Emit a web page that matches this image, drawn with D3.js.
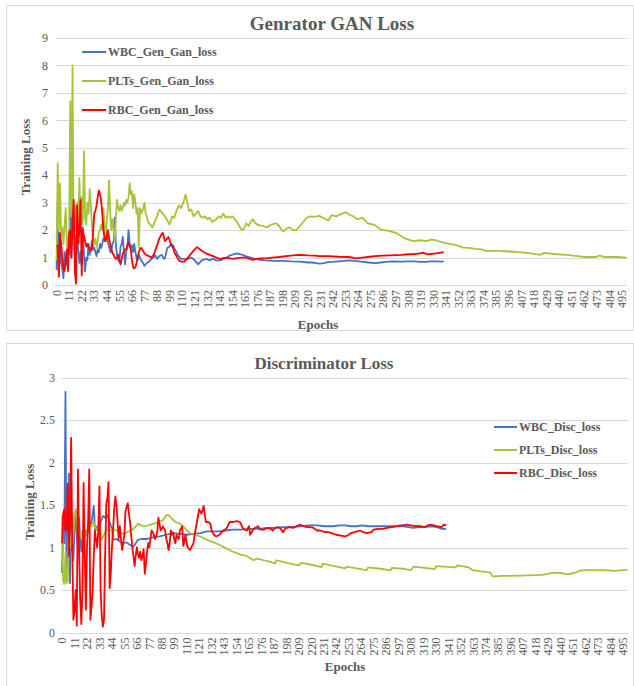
<!DOCTYPE html>
<html><head>
<meta charset="UTF-8">
<title>GAN Loss</title>
<script src="https://d3js.org/d3.v7.min.js"></script>
<style>
    body { margin: 0; background: #fff; }
    svg text { font-family: "Liberation Serif", "Times New Roman", serif; fill: #595959; }
    .grid line { stroke: #d9d9d9; stroke-width: 1px; }
    .frame { fill: none; stroke: #d9d9d9; stroke-width: 1px; }
    .series { fill: none; stroke-width: 1.8px; stroke-linejoin: round; }
</style>
</head>
<body>
<svg id="chart" width="634" height="686"></svg>
<script>
// epoch tick labels (category axis, every 11th)
const epochTicks = [0,11,22,33,44,55,66,77,88,99,110,121,132,143,154,165,176,187,198,209,220,231,242,253,264,275,286,297,308,319,330,341,352,363,374,385,396,407,418,429,440,451,462,473,484,495];
const genYTicks = [0,1,2,3,4,5,6,7,8,9];
const discYTicks = [0,0.5,1,1.5,2,2.5,3];

const genNames = ["WBC_Gen_Gan_loss", "PLTs_Gen_Gan_loss", "RBC_Gen_Gan_loss"];
const discNames = ["WBC_Disc_loss", "PLTs_Disc_loss", "RBC_Disc_loss"];
const colors = ["#4472c4", "#a5c43a", "#ff0000"];

// [epoch, loss]
const genWbc = [[0,0.55],[1,3.0],[2,0.5],[3,1.5],[4,0.8],[5,0.6],[6,0.25],[7,1.2],[8,0.7],[9,0.9],[10,1.5],[11,1.1],[12,2.8],[13,1.0],[14,3.5],[15,1.4],[16,1.8],[17,1.0],[18,1.6],[19,1.3],[20,0.8],[21,1.2],[22,0.7],[23,2.1],[24,1.1],[25,0.5],[26,1.0],[27,0.9],[28,1.5],[29,1.1],[30,1.3],[31,1.6],[32,1.3],[33,1.35],[34,1.2],[35,1.05],[36,1.3],[37,1.2],[38,1.5],[39,1.35],[40,1.5],[41,1.7],[42,1.6],[43,1.75],[44,1.9],[45,1.55],[46,1.4],[47,1.2],[48,1.25],[49,1.5],[50,1.6],[51,2.45],[52,1.4],[53,1.1],[54,0.9],[55,0.85],[56,1.4],[57,1.5],[58,1.75],[59,1.2],[60,0.75],[61,1.2],[62,1.4],[63,2.0],[64,1.5],[65,1.35],[66,1.45],[67,1.2],[68,1.5],[69,1.2],[70,1.0],[71,0.9],[72,1.1],[73,1.0],[74,0.9],[75,0.85],[77,0.7],[79,0.8],[81,0.85],[83,0.95],[85,1.0],[86,1.1],[88,0.95],[90,1.05],[92,1.1],[94,0.95],[95,1.0],[97,1.35],[99,1.4],[100,1.5],[102,1.45],[103,1.35],[105,1.2],[106,1.1],[108,1.0],[109,0.95],[112,0.95],[115,0.95],[118,1.0],[121,0.9],[124,0.75],[127,0.9],[131,0.95],[134,0.9],[137,0.95],[140,0.9],[143,0.9],[146,0.95],[149,1.0],[152,1.08],[155,1.12],[158,1.15],[161,1.12],[164,1.08],[167,1.03],[170,1.0],[174,0.95],[178,0.92],[183,0.9],[190,0.88],[198,0.88],[205,0.86],[213,0.85],[220,0.82],[224,0.82],[227,0.8],[230,0.78],[234,0.8],[238,0.83],[242,0.84],[247,0.86],[252,0.88],[256,0.9],[260,0.88],[265,0.86],[273,0.82],[279,0.8],[284,0.82],[288,0.84],[294,0.86],[302,0.85],[308,0.86],[314,0.86],[318,0.84],[323,0.84],[328,0.86],[332,0.86],[337,0.85],[339,0.86]];
const genPlts = [[0,0.9],[1,4.44],[2,2.0],[3,3.7],[4,1.8],[5,2.1],[6,1.5],[7,2.2],[8,2.8],[9,1.4],[10,1.6],[11,2.0],[12,6.7],[13,2.5],[14,8.0],[15,1.3],[16,2.9],[17,2.0],[18,3.0],[19,2.1],[20,3.9],[21,2.3],[22,3.2],[23,2.2],[24,4.87],[25,2.4],[26,2.2],[27,3.0],[28,2.6],[29,3.5],[30,2.9],[31,2.2],[32,1.6],[33,1.5],[34,1.7],[35,1.35],[36,1.6],[37,1.9],[38,2.0],[39,2.2],[40,2.0],[41,2.8],[42,2.2],[43,1.6],[44,2.4],[45,2.8],[46,3.8],[47,2.6],[48,2.0],[49,2.4],[50,2.0],[51,1.6],[52,2.5],[53,3.1],[54,2.8],[55,2.7],[56,2.9],[57,2.7],[58,2.8],[59,3.0],[60,2.9],[61,3.1],[62,3.0],[63,3.2],[64,3.7],[65,3.3],[66,3.4],[67,2.8],[68,3.3],[69,3.0],[70,2.6],[71,2.8],[72,1.35],[73,2.8],[74,2.6],[75,2.7],[76,2.8],[77,3.0],[78,2.6],[79,2.5],[80,2.3],[82,2.2],[84,2.1],[86,2.3],[88,2.5],[90,2.75],[91,2.7],[93,2.6],[95,2.5],[97,2.35],[99,2.2],[101,2.5],[103,2.45],[105,2.7],[107,2.9],[109,2.8],[111,3.0],[113,3.3],[114,3.1],[116,2.7],[118,2.75],[120,2.5],[122,2.6],[124,2.7],[126,2.5],[128,2.45],[130,2.5],[132,2.4],[134,2.45],[136,2.3],[138,2.35],[140,2.4],[142,2.5],[144,2.45],[146,2.6],[148,2.45],[150,2.5],[152,2.45],[154,2.5],[156,2.4],[158,2.3],[160,2.15],[162,2.0],[164,2.05],[166,2.25],[168,2.15],[170,2.3],[172,2.4],[174,2.25],[176,2.2],[180,2.15],[184,2.1],[188,2.2],[192,2.25],[195,2.15],[197,2.0],[199,1.95],[201,2.05],[204,2.1],[207,2.0],[210,2.0],[213,2.15],[216,2.3],[219,2.45],[222,2.5],[226,2.48],[230,2.52],[234,2.43],[238,2.35],[241,2.55],[245,2.5],[250,2.6],[253,2.65],[257,2.55],[260,2.5],[263,2.4],[268,2.45],[272,2.25],[278,2.2],[284,2.02],[291,1.97],[297,1.9],[304,1.72],[312,1.6],[318,1.63],[324,1.6],[328,1.65],[332,1.63],[337,1.56],[344,1.5],[350,1.45],[356,1.36],[361,1.35],[367,1.32],[372,1.3],[376,1.24],[385,1.24],[397,1.22],[406,1.2],[415,1.15],[424,1.1],[427,1.17],[435,1.13],[447,1.1],[456,1.05],[462,1.02],[472,1.02],[475,1.07],[479,1.03],[491,1.02],[499,1.0]];
const genRbc = [[0,1.45],[1,1.4],[2,0.3],[3,1.9],[4,1.5],[5,1.0],[6,0.6],[7,0.5],[8,0.9],[9,1.3],[10,0.5],[11,1.9],[12,2.0],[13,1.0],[14,2.2],[15,3.1],[16,0.5],[17,0.05],[18,2.9],[19,1.5],[20,2.0],[21,3.1],[22,0.35],[23,2.0],[24,1.8],[25,1.6],[26,1.4],[27,1.5],[28,1.35],[29,1.35],[30,1.25],[31,1.3],[32,1.9],[33,2.6],[34,2.7],[35,2.9],[36,3.2],[37,3.45],[38,3.3],[39,3.1],[40,2.6],[41,2.0],[42,1.7],[43,1.6],[44,1.8],[45,2.0],[46,1.7],[47,1.5],[48,1.3],[49,1.15],[50,1.1],[51,1.0],[52,0.95],[53,1.0],[54,1.1],[55,0.9],[56,0.75],[57,0.95],[58,1.15],[59,1.2],[60,1.3],[61,1.3],[62,1.45],[63,1.55],[64,1.4],[65,1.3],[66,0.9],[67,0.65],[68,0.6],[69,0.65],[70,0.8],[71,1.0],[72,1.2],[73,1.3],[74,1.35],[75,1.3],[77,1.15],[79,1.08],[81,1.05],[83,1.0],[85,1.1],[86,1.2],[88,1.45],[90,1.7],[92,1.85],[93,1.9],[94,1.75],[95,1.6],[97,1.7],[98,1.75],[100,1.5],[102,1.35],[103,1.2],[105,1.05],[107,0.9],[109,0.85],[112,0.85],[115,1.0],[118,1.15],[121,1.3],[123,1.38],[125,1.32],[127,1.25],[131,1.15],[134,1.1],[137,1.05],[140,1.0],[143,0.95],[146,0.98],[149,1.0],[152,0.97],[155,0.95],[158,0.98],[162,1.0],[166,1.0],[169,0.95],[172,0.92],[175,0.95],[178,0.97],[184,0.98],[189,1.0],[195,1.02],[201,1.05],[207,1.08],[213,1.1],[220,1.08],[226,1.07],[230,1.05],[238,1.05],[247,1.03],[256,1.02],[262,0.97],[268,1.0],[274,1.03],[279,1.05],[285,1.07],[291,1.08],[297,1.09],[302,1.1],[308,1.12],[314,1.13],[318,1.15],[321,1.18],[324,1.12],[328,1.13],[332,1.15],[335,1.17],[339,1.2]];

const discWbc = [[0,0.7],[1,1.3],[2,1.05],[3,2.83],[4,0.6],[5,1.0],[6,1.87],[7,0.58],[8,1.45],[9,1.0],[10,0.85],[11,1.2],[12,1.42],[13,1.15],[14,1.0],[15,1.35],[16,1.1],[17,0.95],[18,1.1],[19,1.05],[20,1.2],[22,1.15],[24,1.25],[26,1.3],[28,1.49],[29,1.2],[30,1.25],[32,1.2],[34,1.3],[36,1.37],[38,1.35],[40,1.38],[42,1.3],[44,1.22],[45,1.09],[48,1.1],[51,1.07],[54,1.05],[57,1.06],[60,1.03],[63,1.01],[65,1.05],[67,1.09],[70,1.1],[75,1.1],[80,1.12],[86,1.13],[92,1.15],[98,1.17],[104,1.16],[110,1.15],[116,1.16],[122,1.17],[128,1.19],[134,1.19],[139,1.19],[145,1.2],[151,1.21],[158,1.21],[166,1.22],[174,1.22],[181,1.23],[188,1.23],[195,1.24],[202,1.24],[210,1.25],[218,1.26],[225,1.26],[232,1.25],[239,1.25],[245,1.26],[250,1.26],[255,1.25],[260,1.25],[265,1.26],[270,1.25],[276,1.25],[281,1.25],[286,1.25],[291,1.25],[296,1.25],[301,1.25],[306,1.24],[310,1.23],[315,1.24],[320,1.24],[325,1.25],[331,1.24],[335,1.22],[339,1.22]];
const discPlts = [[0,1.38],[1,0.6],[2,0.57],[3,0.95],[4,0.58],[5,0.6],[6,1.4],[7,1.0],[8,1.1],[9,1.2],[10,1.15],[11,1.38],[12,1.45],[13,1.3],[14,1.1],[15,1.2],[16,1.15],[17,1.12],[18,1.2],[19,1.1],[20,1.12],[22,1.2],[24,1.28],[26,1.25],[28,1.3],[30,1.2],[32,1.25],[34,1.15],[35,1.09],[37,1.15],[39,1.2],[41,1.22],[43,1.2],[45,1.22],[48,1.2],[51,1.18],[54,1.16],[56,1.17],[59,1.19],[63,1.22],[66,1.26],[67,1.28],[70,1.26],[73,1.25],[76,1.26],[81,1.28],[85,1.3],[89,1.32],[92,1.38],[94,1.38],[97,1.34],[100,1.3],[104,1.28],[107,1.25],[110,1.2],[113,1.17],[116,1.15],[122,1.13],[128,1.09],[134,1.06],[139,1.03],[145,0.99],[151,0.95],[157,0.92],[163,0.9],[169,0.85],[172,0.87],[178,0.85],[184,0.83],[188,0.81],[189,0.85],[195,0.83],[201,0.81],[209,0.79],[211,0.82],[219,0.8],[229,0.77],[230,0.81],[239,0.785],[250,0.755],[251,0.775],[260,0.755],[269,0.735],[270,0.765],[281,0.75],[290,0.73],[291,0.76],[301,0.75],[308,0.735],[310,0.775],[320,0.76],[329,0.745],[330,0.78],[347,0.765],[349,0.79],[353,0.78],[359,0.765],[362,0.735],[367,0.725],[378,0.705],[380,0.66],[388,0.665],[405,0.67],[423,0.677],[429,0.69],[434,0.705],[440,0.7],[446,0.685],[452,0.7],[458,0.73],[465,0.735],[473,0.735],[482,0.73],[487,0.725],[496,0.735],[499,0.737]];
const discRbc = [[0,1.05],[1,1.4],[2,1.45],[3,1.2],[4,1.2],[5,1.75],[6,0.9],[7,1.3],[8,2.29],[9,1.0],[10,0.15],[11,0.25],[12,0.5],[13,0.08],[14,1.92],[15,1.0],[16,0.4],[17,0.1],[18,0.5],[19,1.76],[20,0.9],[21,0.27],[22,1.0],[23,1.3],[24,1.92],[25,0.15],[26,0.3],[27,0.5],[28,0.9],[29,1.2],[30,1.1],[31,1.0],[32,1.2],[33,1.72],[34,0.5],[35,0.2],[36,0.07],[37,0.15],[38,0.9],[39,1.5],[40,1.58],[41,1.77],[42,0.52],[43,0.7],[44,1.0],[45,1.2],[46,1.45],[47,1.6],[48,1.5],[49,1.3],[50,1.1],[51,1.25],[52,1.1],[53,0.97],[54,1.05],[55,1.15],[56,1.43],[57,1.48],[58,1.52],[59,1.4],[60,1.3],[61,1.15],[62,1.0],[63,0.9],[64,0.78],[65,0.9],[66,1.0],[67,0.92],[68,0.88],[69,0.95],[70,0.85],[71,0.9],[72,0.98],[73,0.69],[74,0.8],[75,0.95],[76,1.05],[77,1.0],[78,1.1],[79,1.2],[80,1.18],[81,1.15],[82,1.1],[83,1.13],[84,1.18],[85,1.35],[86,1.28],[87,1.2],[88,1.22],[89,1.25],[90,1.22],[91,1.2],[92,1.1],[93,1.05],[94,0.97],[95,1.05],[96,1.2],[97,1.15],[98,1.18],[99,1.1],[100,1.05],[101,1.15],[102,1.12],[103,1.1],[104,1.2],[105,1.22],[106,1.25],[107,1.02],[108,1.08],[109,1.15],[110,1.05],[111,1.0],[113,0.97],[114,1.0],[116,1.05],[117,1.15],[119,1.3],[121,1.45],[122,1.42],[123,1.4],[124,1.44],[125,1.49],[126,1.38],[127,1.3],[129,1.3],[131,1.28],[132,1.2],[134,1.15],[136,1.13],[139,1.15],[142,1.2],[145,1.22],[148,1.3],[151,1.3],[154,1.31],[157,1.3],[160,1.22],[163,1.2],[165,1.25],[166,1.15],[169,1.22],[173,1.25],[175,1.21],[178,1.21],[181,1.23],[184,1.22],[186,1.2],[188,1.23],[191,1.24],[193,1.22],[195,1.18],[197,1.22],[200,1.24],[204,1.23],[207,1.25],[210,1.27],[213,1.25],[216,1.24],[219,1.24],[222,1.23],[225,1.2],[228,1.2],[232,1.18],[235,1.18],[238,1.17],[242,1.15],[246,1.14],[250,1.13],[253,1.15],[255,1.17],[258,1.18],[263,1.2],[266,1.18],[269,1.17],[273,1.18],[275,1.21],[279,1.22],[283,1.22],[287,1.23],[291,1.24],[295,1.25],[298,1.26],[301,1.26],[304,1.27],[308,1.26],[313,1.25],[317,1.25],[320,1.24],[323,1.26],[325,1.27],[328,1.26],[331,1.25],[335,1.24],[337,1.27],[339,1.26]];

const svg = d3.select("#chart");

function drawChart(cfg) {
    const g = svg.append("g");

    g.append("rect").attr("class", "frame")
        .attr("x", cfg.frame[0]).attr("y", cfg.frame[1])
        .attr("width", cfg.frame[2]).attr("height", cfg.frame[3]);

    const x = d3.scaleLinear().domain([-0.5, 499.5]).range([cfg.left, cfg.right]);
    const y = d3.scaleLinear().domain(cfg.yDomain).range([cfg.bottom, cfg.top]);

    // horizontal gridlines
    g.append("g").attr("class", "grid")
        .selectAll("line").data(cfg.yTicks).enter().append("line")
        .attr("x1", cfg.left).attr("x2", cfg.right)
        .attr("y1", d => Math.round(y(d)) + 0.5).attr("y2", d => Math.round(y(d)) + 0.5);

    // y tick labels
    g.selectAll(".ylab").data(cfg.yTicks).enter().append("text")
        .attr("x", cfg.yLabelX).attr("y", d => y(d))
        .attr("dy", "0.35em").attr("text-anchor", "end")
        .style("font-size", "12px")
        .text(d => d);

    // x tick labels, rotated
    g.selectAll(".xlab").data(epochTicks).enter().append("text")
        .attr("transform", d => `translate(${x(d)},${cfg.bottom + 5}) rotate(-90)`)
        .attr("dy", "0.35em").attr("text-anchor", "end")
        .style("font-size", "12px")
        .text(d => d);

    const line = d3.line().x(d => x(d[0])).y(d => y(d[1]));
    cfg.series.forEach((s, i) => {
        g.append("path").attr("class", "series")
            .attr("stroke", colors[i]).attr("d", line(s));
    });

    g.append("text").attr("x", cfg.titleX).attr("y", cfg.titleY)
        .attr("text-anchor", "middle")
        .style("font-size", cfg.titleSize).style("font-weight", "bold")
        .text(cfg.title);

    g.append("text")
        .attr("transform", `translate(${cfg.yTitle[0]},${cfg.yTitle[1]}) rotate(-90)`)
        .attr("text-anchor", "middle").attr("dy", "0.35em")
        .style("font-size", "13px").style("font-weight", "bold")
        .text("Training Loss");

    g.append("text").attr("x", cfg.xTitle[0]).attr("y", cfg.xTitle[1])
        .attr("text-anchor", "middle")
        .style("font-size", "13px").style("font-weight", "bold")
        .text("Epochs");

    // legend
    const lg = g.selectAll(".leg").data(cfg.names).enter().append("g")
        .attr("transform", (d, i) => `translate(${cfg.legend.x},${cfg.legend.ys[i]})`);
    lg.append("line").attr("x1", 0).attr("x2", cfg.legend.len)
        .attr("stroke", (d, i) => colors[i]).attr("stroke-width", 2);
    lg.append("text").attr("x", cfg.legend.len + 2).attr("dy", "0.35em")
        .style("font-size", "12px").style("font-weight", "bold")
        .text(d => d);
}

drawChart({
    frame: [6.5, 5.5, 627, 325],
    left: 56, right: 627, top: 38, bottom: 285,
    yDomain: [0, 9], yTicks: genYTicks, yLabelX: 48,
    series: [genWbc, genPlts, genRbc], names: genNames,
    title: "Genrator GAN Loss", titleX: 332, titleY: 30, titleSize: "19px",
    yTitle: [25, 157], xTitle: [318, 329],
    legend: { x: 82, len: 24, ys: [52, 81, 110] }
});

drawChart({
    frame: [6.5, 343.5, 627, 350],
    left: 61.5, right: 628, top: 377.5, bottom: 632.5,
    yDomain: [0, 3], yTicks: discYTicks, yLabelX: 55,
    series: [discWbc, discPlts, discRbc], names: discNames,
    title: "Discriminator Loss", titleX: 324, titleY: 369, titleSize: "17px",
    yTitle: [29, 502], xTitle: [345, 671],
    legend: { x: 494, len: 23, ys: [427, 450, 473] }
});
</script>
</body>
</html>
